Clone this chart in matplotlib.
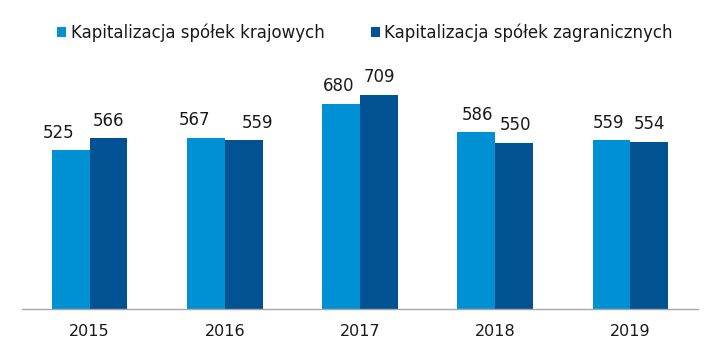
import numpy as np
import matplotlib
matplotlib.use("Agg")
import matplotlib.pyplot as plt

years = ["2015", "2016", "2017", "2018", "2019"]
krajowe = [525, 567, 680, 586, 559]
zagraniczne = [566, 559, 709, 550, 554]
series_names = ["Kapitalizacja spółek krajowych", "Kapitalizacja spółek zagranicznych"]

# label nudges (points), Excel-like overlap avoidance
dx_kraj = [-9, -8, -2, 1, -2]
dx_zagr = [0, 10, 0, 1, 0]


def main():
    plt.rcParams["font.family"] = ["DejaVu Sans"]
    c_light = "#0091d5"
    c_dark = "#005293"

    fig = plt.figure(figsize=(7.12, 3.54), dpi=100)
    ax = fig.add_axes([22 / 712, 1 - 309 / 354, 676 / 712, 249 / 354])

    x = np.arange(len(years))
    w = 0.28
    b1 = ax.bar(x - w / 2, krajowe, w, color=c_light, label=series_names[0])
    b2 = ax.bar(x + w / 2, zagraniczne, w, color=c_dark, label=series_names[1])

    for bars, vals, dxs in [(b1, krajowe, dx_kraj), (b2, zagraniczne, dx_zagr)]:
        for r, v, d in zip(bars, vals, dxs):
            ax.annotate(str(v), (r.get_x() + r.get_width() / 2, v),
                        xytext=(d, 12.5), textcoords="offset points",
                        ha="center", va="center", fontsize=12, color="#1a1a1a")

    ax.set_xlim(-0.5, len(years) - 0.5)
    ax.set_ylim(0, 824)
    ax.set_xticks(x)
    ax.set_xticklabels(years, fontsize=11.5, color="#1a1a1a")
    ax.tick_params(axis="x", length=0, pad=11)
    ax.set_yticks([])
    for s in ["top", "right", "left"]:
        ax.spines[s].set_visible(False)
    ax.spines["bottom"].set_color("#a6a6a6")
    ax.spines["bottom"].set_linewidth(1)

    fig.legend(loc="center", bbox_to_anchor=(365 / 712, 1 - 33 / 354), ncol=2,
               frameon=False, fontsize=12, handlelength=0.55, handleheight=0.55,
               handletextpad=0.25, columnspacing=2.8, labelcolor="#1a1a1a")

    plt.savefig("out.png")


if __name__ == "__main__":
    main()
